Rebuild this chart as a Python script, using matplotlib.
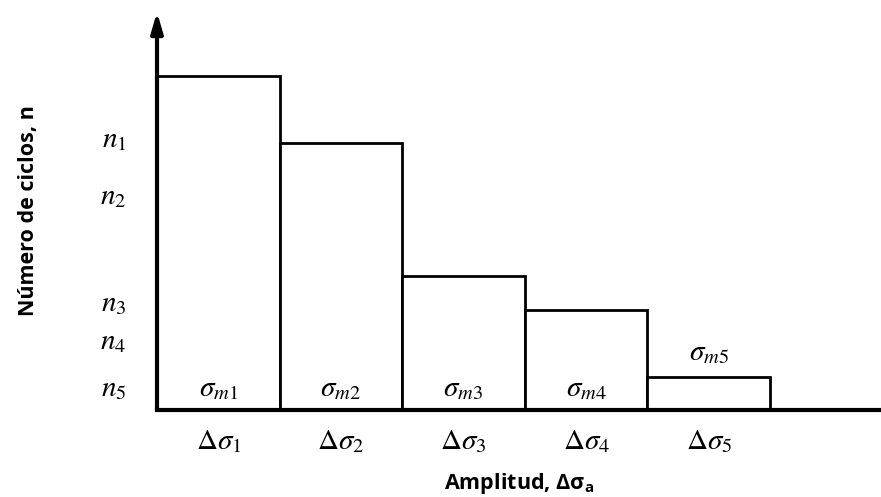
import numpy as np
import matplotlib.pyplot as plt

plt.rcParams['mathtext.fontset'] = 'stix'

# data (bar heights in arbitrary units)
amplitudes = [r'$\Delta\sigma_1$', r'$\Delta\sigma_2$', r'$\Delta\sigma_3$', r'$\Delta\sigma_4$', r'$\Delta\sigma_5$']
cycles = [10, 8, 4, 3, 1]
mean_labels = [r'$\sigma_{m1}$', r'$\sigma_{m2}$', r'$\sigma_{m3}$', r'$\sigma_{m4}$', r'$\sigma_{m5}$']
n_labels = [r'$n_1$', r'$n_2$', r'$n_3$', r'$n_4$', r'$n_5$']
n_ticks = [8.2, 6.5, 3.3, 2.15, 0.75]

fig = plt.figure(figsize=(8.81, 4.97), dpi=100)
ax = fig.add_axes([157/881, 87/497, 724/881, 398/497])

x = np.arange(len(cycles))
ax.bar(x, cycles, width=1, align='edge', color='white', edgecolor='black', linewidth=2, zorder=2)

ax.set_xlim(0, 5.905)
ax.set_ylim(0, 11.92)

for s in ['top', 'right', 'left']:
    ax.spines[s].set_visible(False)
ax.spines['bottom'].set_linewidth(3)
ax.spines['bottom'].set_zorder(3)

# y axis drawn as an arrow
ax.annotate('', xy=(0, 1.0), xytext=(0, 0), xycoords='axes fraction',
            arrowprops=dict(arrowstyle='-|>,head_length=1.2,head_width=0.35', lw=3, color='black',
                            shrinkA=0, shrinkB=0), zorder=4, annotation_clip=False)

ax.set_xticks(x + 0.5)
ax.set_xticklabels(amplitudes, fontsize=21)
ax.set_yticks(n_ticks)
ax.set_yticklabels(n_labels, fontsize=21)
ax.tick_params(axis='x', length=0, pad=12)
ax.tick_params(axis='y', length=0, pad=22)

# mean stress labels
for i, lab in enumerate(mean_labels):
    if i < 4:
        ax.text(i + 0.5, 0.25, lab, ha='center', va='bottom', fontsize=21)
    else:
        ax.text(i + 0.5, cycles[i] + 0.3, lab, ha='center', va='bottom', fontsize=21)

ax.set_xlabel('Amplitud, Δσ$_\\mathregular{a}$', fontsize=15.5, fontweight='bold',
              family='Open Sans', labelpad=12)
ax.set_ylabel('Número de ciclos, n', fontsize=15.5, fontweight='bold', family='Open Sans', labelpad=44)

fig.savefig('out.png', dpi=100)
